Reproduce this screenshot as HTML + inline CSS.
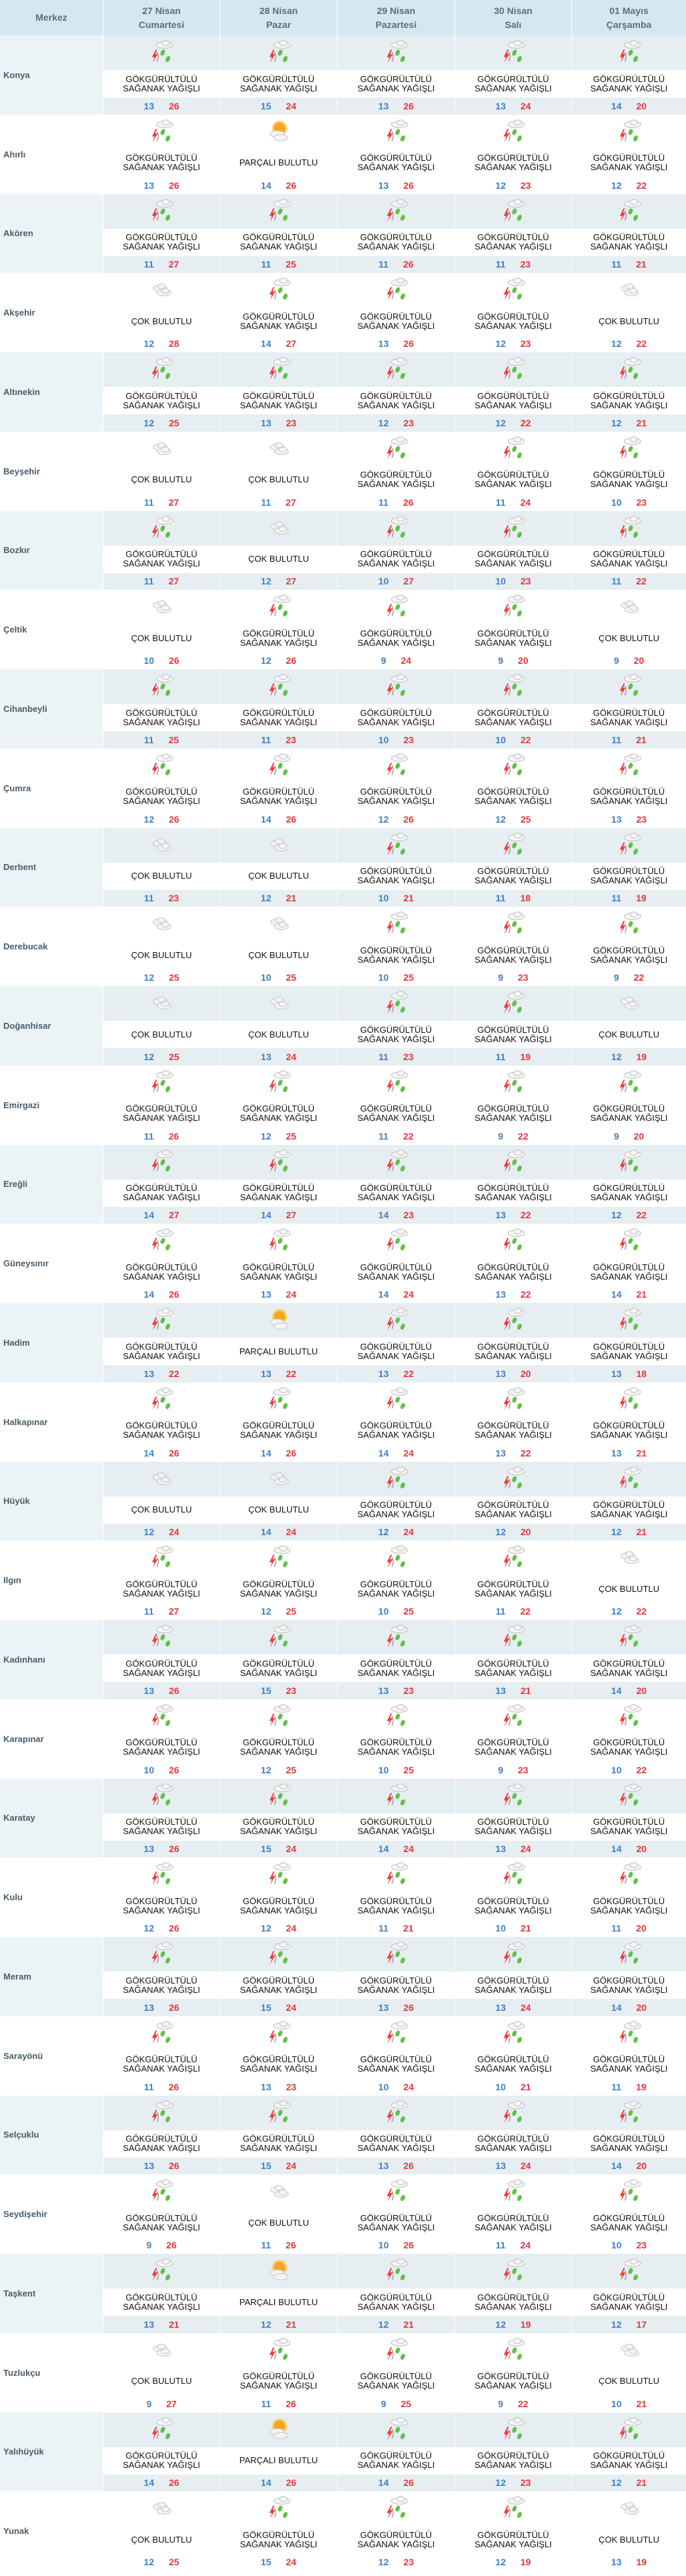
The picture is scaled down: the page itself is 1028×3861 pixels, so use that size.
<!DOCTYPE html>
<html><head><meta charset="utf-8"><style>
*{margin:0;padding:0;box-sizing:border-box}
body{width:1028px;height:3861px;background:#fff;font-family:"Liberation Sans",sans-serif;overflow:hidden}
.h,.r{display:grid;grid-template-columns:154px 175px 176px 176px 175px 172px}
.h{height:53px;background:#d5e8ef}
.h div{display:flex;align-items:center;justify-content:center;text-align:center;font-weight:bold;font-size:14px;line-height:21px;color:#56707f;border-left:1px solid #fff}
.h div:first-child{border-left:0}
.r{height:118.75px}
.n{display:flex;align-items:center;padding-left:5px;font-weight:bold;font-size:13px;color:#4a5c69}
.c{display:flex;flex-direction:column;border-left:1px solid #fff}
.i{height:52px;display:flex;justify-content:center;align-items:flex-start;padding-top:6px}
.i svg{width:38px;height:38px}
.t{height:41px;display:flex;align-items:center;justify-content:center;text-align:center;font-size:13px;line-height:14px;color:#111;background:#fff}
.p{flex:1;display:flex;align-items:center;justify-content:center;font-weight:bold;font-size:14px}
.p b{color:#3f7fc4;margin-right:11px}
.p i{color:#e0393e;font-style:normal;margin-left:11px}
.s .n{background:#ecf3f6}
.s .i,.s .p{background:#e6eef2}
.s .c{border-left:1px solid #fff}
</style></head><body>
<svg width="0" height="0" style="position:absolute">
<defs>
<symbol id="g" viewBox="0 0 40 40">
<ellipse cx="25" cy="9" rx="13" ry="5" fill="#f6f6f6" stroke="#bbb" stroke-width="1"/>
<ellipse cx="27" cy="6" rx="6" ry="4" fill="#f6f6f6" stroke="#bbb" stroke-width="1"/>
<path d="M11 16 L5 28 L9 28 L6 37 L14 23 L10 23 L13 16Z" fill="#ee3b3b"/>
<path d="M13 20 Q17 27 13 35" stroke="#888" stroke-width="1.2" fill="none"/>
<ellipse cx="22" cy="21" rx="3.2" ry="5" fill="#5ec244" transform="rotate(25 22 21)"/>
<ellipse cx="30" cy="31" rx="3.2" ry="5" fill="#5ec244" transform="rotate(25 30 31)"/>
</symbol>
<symbol id="c" viewBox="0 0 40 40">
<ellipse cx="18" cy="18" rx="11" ry="5" fill="#f4f4f4" stroke="#c4c4c4"/>
<ellipse cx="20" cy="15" rx="6" ry="4" fill="#f4f4f4" stroke="#c4c4c4"/>
<ellipse cx="24" cy="25" rx="11" ry="5" fill="#f4f4f4" stroke="#c4c4c4"/>
<ellipse cx="26" cy="22" rx="6" ry="4" fill="#f4f4f4" stroke="#c4c4c4"/>
</symbol>
<symbol id="s" viewBox="0 0 40 40">
<circle cx="21" cy="15" r="12" fill="#fbd27a"/>
<circle cx="21" cy="15" r="9" fill="#f5a623"/>
<ellipse cx="17" cy="24" rx="11" ry="5" fill="#f4f4f4" stroke="#c4c4c4"/>
<ellipse cx="23" cy="30" rx="11" ry="5" fill="#f4f4f4" stroke="#c4c4c4"/>
</symbol>
</defs></svg>
<div class="h"><div>Merkez</div><div>27 Nisan<br>Cumartesi</div><div>28 Nisan<br>Pazar</div><div>29 Nisan<br>Pazartesi</div><div>30 Nisan<br>Salı</div><div>01 Mayıs<br>Çarşamba</div></div>

<div class="r s"><div class="n">Konya</div>
<div class="c"><div class="i"><svg><use href="#g"/></svg></div><div class="t">GÖKGÜRÜLTÜLÜ<br>SAĞANAK YAĞIŞLI</div><div class="p"><b>13</b><i>26</i></div></div>
<div class="c"><div class="i"><svg><use href="#g"/></svg></div><div class="t">GÖKGÜRÜLTÜLÜ<br>SAĞANAK YAĞIŞLI</div><div class="p"><b>15</b><i>24</i></div></div>
<div class="c"><div class="i"><svg><use href="#g"/></svg></div><div class="t">GÖKGÜRÜLTÜLÜ<br>SAĞANAK YAĞIŞLI</div><div class="p"><b>13</b><i>26</i></div></div>
<div class="c"><div class="i"><svg><use href="#g"/></svg></div><div class="t">GÖKGÜRÜLTÜLÜ<br>SAĞANAK YAĞIŞLI</div><div class="p"><b>13</b><i>24</i></div></div>
<div class="c"><div class="i"><svg><use href="#g"/></svg></div><div class="t">GÖKGÜRÜLTÜLÜ<br>SAĞANAK YAĞIŞLI</div><div class="p"><b>14</b><i>20</i></div></div>
</div>

<div class="r"><div class="n">Ahırlı</div>
<div class="c"><div class="i"><svg><use href="#g"/></svg></div><div class="t">GÖKGÜRÜLTÜLÜ<br>SAĞANAK YAĞIŞLI</div><div class="p"><b>13</b><i>26</i></div></div>
<div class="c"><div class="i"><svg><use href="#s"/></svg></div><div class="t">PARÇALI BULUTLU</div><div class="p"><b>14</b><i>26</i></div></div>
<div class="c"><div class="i"><svg><use href="#g"/></svg></div><div class="t">GÖKGÜRÜLTÜLÜ<br>SAĞANAK YAĞIŞLI</div><div class="p"><b>13</b><i>26</i></div></div>
<div class="c"><div class="i"><svg><use href="#g"/></svg></div><div class="t">GÖKGÜRÜLTÜLÜ<br>SAĞANAK YAĞIŞLI</div><div class="p"><b>12</b><i>23</i></div></div>
<div class="c"><div class="i"><svg><use href="#g"/></svg></div><div class="t">GÖKGÜRÜLTÜLÜ<br>SAĞANAK YAĞIŞLI</div><div class="p"><b>12</b><i>22</i></div></div>
</div>

<div class="r s"><div class="n">Akören</div>
<div class="c"><div class="i"><svg><use href="#g"/></svg></div><div class="t">GÖKGÜRÜLTÜLÜ<br>SAĞANAK YAĞIŞLI</div><div class="p"><b>11</b><i>27</i></div></div>
<div class="c"><div class="i"><svg><use href="#g"/></svg></div><div class="t">GÖKGÜRÜLTÜLÜ<br>SAĞANAK YAĞIŞLI</div><div class="p"><b>11</b><i>25</i></div></div>
<div class="c"><div class="i"><svg><use href="#g"/></svg></div><div class="t">GÖKGÜRÜLTÜLÜ<br>SAĞANAK YAĞIŞLI</div><div class="p"><b>11</b><i>26</i></div></div>
<div class="c"><div class="i"><svg><use href="#g"/></svg></div><div class="t">GÖKGÜRÜLTÜLÜ<br>SAĞANAK YAĞIŞLI</div><div class="p"><b>11</b><i>23</i></div></div>
<div class="c"><div class="i"><svg><use href="#g"/></svg></div><div class="t">GÖKGÜRÜLTÜLÜ<br>SAĞANAK YAĞIŞLI</div><div class="p"><b>11</b><i>21</i></div></div>
</div>

<div class="r"><div class="n">Akşehir</div>
<div class="c"><div class="i"><svg><use href="#c"/></svg></div><div class="t">ÇOK BULUTLU</div><div class="p"><b>12</b><i>28</i></div></div>
<div class="c"><div class="i"><svg><use href="#g"/></svg></div><div class="t">GÖKGÜRÜLTÜLÜ<br>SAĞANAK YAĞIŞLI</div><div class="p"><b>14</b><i>27</i></div></div>
<div class="c"><div class="i"><svg><use href="#g"/></svg></div><div class="t">GÖKGÜRÜLTÜLÜ<br>SAĞANAK YAĞIŞLI</div><div class="p"><b>13</b><i>26</i></div></div>
<div class="c"><div class="i"><svg><use href="#g"/></svg></div><div class="t">GÖKGÜRÜLTÜLÜ<br>SAĞANAK YAĞIŞLI</div><div class="p"><b>12</b><i>23</i></div></div>
<div class="c"><div class="i"><svg><use href="#c"/></svg></div><div class="t">ÇOK BULUTLU</div><div class="p"><b>12</b><i>22</i></div></div>
</div>

<div class="r s"><div class="n">Altınekin</div>
<div class="c"><div class="i"><svg><use href="#g"/></svg></div><div class="t">GÖKGÜRÜLTÜLÜ<br>SAĞANAK YAĞIŞLI</div><div class="p"><b>12</b><i>25</i></div></div>
<div class="c"><div class="i"><svg><use href="#g"/></svg></div><div class="t">GÖKGÜRÜLTÜLÜ<br>SAĞANAK YAĞIŞLI</div><div class="p"><b>13</b><i>23</i></div></div>
<div class="c"><div class="i"><svg><use href="#g"/></svg></div><div class="t">GÖKGÜRÜLTÜLÜ<br>SAĞANAK YAĞIŞLI</div><div class="p"><b>12</b><i>23</i></div></div>
<div class="c"><div class="i"><svg><use href="#g"/></svg></div><div class="t">GÖKGÜRÜLTÜLÜ<br>SAĞANAK YAĞIŞLI</div><div class="p"><b>12</b><i>22</i></div></div>
<div class="c"><div class="i"><svg><use href="#g"/></svg></div><div class="t">GÖKGÜRÜLTÜLÜ<br>SAĞANAK YAĞIŞLI</div><div class="p"><b>12</b><i>21</i></div></div>
</div>

<div class="r"><div class="n">Beyşehir</div>
<div class="c"><div class="i"><svg><use href="#c"/></svg></div><div class="t">ÇOK BULUTLU</div><div class="p"><b>11</b><i>27</i></div></div>
<div class="c"><div class="i"><svg><use href="#c"/></svg></div><div class="t">ÇOK BULUTLU</div><div class="p"><b>11</b><i>27</i></div></div>
<div class="c"><div class="i"><svg><use href="#g"/></svg></div><div class="t">GÖKGÜRÜLTÜLÜ<br>SAĞANAK YAĞIŞLI</div><div class="p"><b>11</b><i>26</i></div></div>
<div class="c"><div class="i"><svg><use href="#g"/></svg></div><div class="t">GÖKGÜRÜLTÜLÜ<br>SAĞANAK YAĞIŞLI</div><div class="p"><b>11</b><i>24</i></div></div>
<div class="c"><div class="i"><svg><use href="#g"/></svg></div><div class="t">GÖKGÜRÜLTÜLÜ<br>SAĞANAK YAĞIŞLI</div><div class="p"><b>10</b><i>23</i></div></div>
</div>

<div class="r s"><div class="n">Bozkır</div>
<div class="c"><div class="i"><svg><use href="#g"/></svg></div><div class="t">GÖKGÜRÜLTÜLÜ<br>SAĞANAK YAĞIŞLI</div><div class="p"><b>11</b><i>27</i></div></div>
<div class="c"><div class="i"><svg><use href="#c"/></svg></div><div class="t">ÇOK BULUTLU</div><div class="p"><b>12</b><i>27</i></div></div>
<div class="c"><div class="i"><svg><use href="#g"/></svg></div><div class="t">GÖKGÜRÜLTÜLÜ<br>SAĞANAK YAĞIŞLI</div><div class="p"><b>10</b><i>27</i></div></div>
<div class="c"><div class="i"><svg><use href="#g"/></svg></div><div class="t">GÖKGÜRÜLTÜLÜ<br>SAĞANAK YAĞIŞLI</div><div class="p"><b>10</b><i>23</i></div></div>
<div class="c"><div class="i"><svg><use href="#g"/></svg></div><div class="t">GÖKGÜRÜLTÜLÜ<br>SAĞANAK YAĞIŞLI</div><div class="p"><b>11</b><i>22</i></div></div>
</div>

<div class="r"><div class="n">Çeltik</div>
<div class="c"><div class="i"><svg><use href="#c"/></svg></div><div class="t">ÇOK BULUTLU</div><div class="p"><b>10</b><i>26</i></div></div>
<div class="c"><div class="i"><svg><use href="#g"/></svg></div><div class="t">GÖKGÜRÜLTÜLÜ<br>SAĞANAK YAĞIŞLI</div><div class="p"><b>12</b><i>26</i></div></div>
<div class="c"><div class="i"><svg><use href="#g"/></svg></div><div class="t">GÖKGÜRÜLTÜLÜ<br>SAĞANAK YAĞIŞLI</div><div class="p"><b>9</b><i>24</i></div></div>
<div class="c"><div class="i"><svg><use href="#g"/></svg></div><div class="t">GÖKGÜRÜLTÜLÜ<br>SAĞANAK YAĞIŞLI</div><div class="p"><b>9</b><i>20</i></div></div>
<div class="c"><div class="i"><svg><use href="#c"/></svg></div><div class="t">ÇOK BULUTLU</div><div class="p"><b>9</b><i>20</i></div></div>
</div>

<div class="r s"><div class="n">Cihanbeyli</div>
<div class="c"><div class="i"><svg><use href="#g"/></svg></div><div class="t">GÖKGÜRÜLTÜLÜ<br>SAĞANAK YAĞIŞLI</div><div class="p"><b>11</b><i>25</i></div></div>
<div class="c"><div class="i"><svg><use href="#g"/></svg></div><div class="t">GÖKGÜRÜLTÜLÜ<br>SAĞANAK YAĞIŞLI</div><div class="p"><b>11</b><i>23</i></div></div>
<div class="c"><div class="i"><svg><use href="#g"/></svg></div><div class="t">GÖKGÜRÜLTÜLÜ<br>SAĞANAK YAĞIŞLI</div><div class="p"><b>10</b><i>23</i></div></div>
<div class="c"><div class="i"><svg><use href="#g"/></svg></div><div class="t">GÖKGÜRÜLTÜLÜ<br>SAĞANAK YAĞIŞLI</div><div class="p"><b>10</b><i>22</i></div></div>
<div class="c"><div class="i"><svg><use href="#g"/></svg></div><div class="t">GÖKGÜRÜLTÜLÜ<br>SAĞANAK YAĞIŞLI</div><div class="p"><b>11</b><i>21</i></div></div>
</div>

<div class="r"><div class="n">Çumra</div>
<div class="c"><div class="i"><svg><use href="#g"/></svg></div><div class="t">GÖKGÜRÜLTÜLÜ<br>SAĞANAK YAĞIŞLI</div><div class="p"><b>12</b><i>26</i></div></div>
<div class="c"><div class="i"><svg><use href="#g"/></svg></div><div class="t">GÖKGÜRÜLTÜLÜ<br>SAĞANAK YAĞIŞLI</div><div class="p"><b>14</b><i>26</i></div></div>
<div class="c"><div class="i"><svg><use href="#g"/></svg></div><div class="t">GÖKGÜRÜLTÜLÜ<br>SAĞANAK YAĞIŞLI</div><div class="p"><b>12</b><i>26</i></div></div>
<div class="c"><div class="i"><svg><use href="#g"/></svg></div><div class="t">GÖKGÜRÜLTÜLÜ<br>SAĞANAK YAĞIŞLI</div><div class="p"><b>12</b><i>25</i></div></div>
<div class="c"><div class="i"><svg><use href="#g"/></svg></div><div class="t">GÖKGÜRÜLTÜLÜ<br>SAĞANAK YAĞIŞLI</div><div class="p"><b>13</b><i>23</i></div></div>
</div>

<div class="r s"><div class="n">Derbent</div>
<div class="c"><div class="i"><svg><use href="#c"/></svg></div><div class="t">ÇOK BULUTLU</div><div class="p"><b>11</b><i>23</i></div></div>
<div class="c"><div class="i"><svg><use href="#c"/></svg></div><div class="t">ÇOK BULUTLU</div><div class="p"><b>12</b><i>21</i></div></div>
<div class="c"><div class="i"><svg><use href="#g"/></svg></div><div class="t">GÖKGÜRÜLTÜLÜ<br>SAĞANAK YAĞIŞLI</div><div class="p"><b>10</b><i>21</i></div></div>
<div class="c"><div class="i"><svg><use href="#g"/></svg></div><div class="t">GÖKGÜRÜLTÜLÜ<br>SAĞANAK YAĞIŞLI</div><div class="p"><b>11</b><i>18</i></div></div>
<div class="c"><div class="i"><svg><use href="#g"/></svg></div><div class="t">GÖKGÜRÜLTÜLÜ<br>SAĞANAK YAĞIŞLI</div><div class="p"><b>11</b><i>19</i></div></div>
</div>

<div class="r"><div class="n">Derebucak</div>
<div class="c"><div class="i"><svg><use href="#c"/></svg></div><div class="t">ÇOK BULUTLU</div><div class="p"><b>12</b><i>25</i></div></div>
<div class="c"><div class="i"><svg><use href="#c"/></svg></div><div class="t">ÇOK BULUTLU</div><div class="p"><b>10</b><i>25</i></div></div>
<div class="c"><div class="i"><svg><use href="#g"/></svg></div><div class="t">GÖKGÜRÜLTÜLÜ<br>SAĞANAK YAĞIŞLI</div><div class="p"><b>10</b><i>25</i></div></div>
<div class="c"><div class="i"><svg><use href="#g"/></svg></div><div class="t">GÖKGÜRÜLTÜLÜ<br>SAĞANAK YAĞIŞLI</div><div class="p"><b>9</b><i>23</i></div></div>
<div class="c"><div class="i"><svg><use href="#g"/></svg></div><div class="t">GÖKGÜRÜLTÜLÜ<br>SAĞANAK YAĞIŞLI</div><div class="p"><b>9</b><i>22</i></div></div>
</div>

<div class="r s"><div class="n">Doğanhisar</div>
<div class="c"><div class="i"><svg><use href="#c"/></svg></div><div class="t">ÇOK BULUTLU</div><div class="p"><b>12</b><i>25</i></div></div>
<div class="c"><div class="i"><svg><use href="#c"/></svg></div><div class="t">ÇOK BULUTLU</div><div class="p"><b>13</b><i>24</i></div></div>
<div class="c"><div class="i"><svg><use href="#g"/></svg></div><div class="t">GÖKGÜRÜLTÜLÜ<br>SAĞANAK YAĞIŞLI</div><div class="p"><b>11</b><i>23</i></div></div>
<div class="c"><div class="i"><svg><use href="#g"/></svg></div><div class="t">GÖKGÜRÜLTÜLÜ<br>SAĞANAK YAĞIŞLI</div><div class="p"><b>11</b><i>19</i></div></div>
<div class="c"><div class="i"><svg><use href="#c"/></svg></div><div class="t">ÇOK BULUTLU</div><div class="p"><b>12</b><i>19</i></div></div>
</div>

<div class="r"><div class="n">Emirgazi</div>
<div class="c"><div class="i"><svg><use href="#g"/></svg></div><div class="t">GÖKGÜRÜLTÜLÜ<br>SAĞANAK YAĞIŞLI</div><div class="p"><b>11</b><i>26</i></div></div>
<div class="c"><div class="i"><svg><use href="#g"/></svg></div><div class="t">GÖKGÜRÜLTÜLÜ<br>SAĞANAK YAĞIŞLI</div><div class="p"><b>12</b><i>25</i></div></div>
<div class="c"><div class="i"><svg><use href="#g"/></svg></div><div class="t">GÖKGÜRÜLTÜLÜ<br>SAĞANAK YAĞIŞLI</div><div class="p"><b>11</b><i>22</i></div></div>
<div class="c"><div class="i"><svg><use href="#g"/></svg></div><div class="t">GÖKGÜRÜLTÜLÜ<br>SAĞANAK YAĞIŞLI</div><div class="p"><b>9</b><i>22</i></div></div>
<div class="c"><div class="i"><svg><use href="#g"/></svg></div><div class="t">GÖKGÜRÜLTÜLÜ<br>SAĞANAK YAĞIŞLI</div><div class="p"><b>9</b><i>20</i></div></div>
</div>

<div class="r s"><div class="n">Ereğli</div>
<div class="c"><div class="i"><svg><use href="#g"/></svg></div><div class="t">GÖKGÜRÜLTÜLÜ<br>SAĞANAK YAĞIŞLI</div><div class="p"><b>14</b><i>27</i></div></div>
<div class="c"><div class="i"><svg><use href="#g"/></svg></div><div class="t">GÖKGÜRÜLTÜLÜ<br>SAĞANAK YAĞIŞLI</div><div class="p"><b>14</b><i>27</i></div></div>
<div class="c"><div class="i"><svg><use href="#g"/></svg></div><div class="t">GÖKGÜRÜLTÜLÜ<br>SAĞANAK YAĞIŞLI</div><div class="p"><b>14</b><i>23</i></div></div>
<div class="c"><div class="i"><svg><use href="#g"/></svg></div><div class="t">GÖKGÜRÜLTÜLÜ<br>SAĞANAK YAĞIŞLI</div><div class="p"><b>13</b><i>22</i></div></div>
<div class="c"><div class="i"><svg><use href="#g"/></svg></div><div class="t">GÖKGÜRÜLTÜLÜ<br>SAĞANAK YAĞIŞLI</div><div class="p"><b>12</b><i>22</i></div></div>
</div>

<div class="r"><div class="n">Güneysınır</div>
<div class="c"><div class="i"><svg><use href="#g"/></svg></div><div class="t">GÖKGÜRÜLTÜLÜ<br>SAĞANAK YAĞIŞLI</div><div class="p"><b>14</b><i>26</i></div></div>
<div class="c"><div class="i"><svg><use href="#g"/></svg></div><div class="t">GÖKGÜRÜLTÜLÜ<br>SAĞANAK YAĞIŞLI</div><div class="p"><b>13</b><i>24</i></div></div>
<div class="c"><div class="i"><svg><use href="#g"/></svg></div><div class="t">GÖKGÜRÜLTÜLÜ<br>SAĞANAK YAĞIŞLI</div><div class="p"><b>14</b><i>24</i></div></div>
<div class="c"><div class="i"><svg><use href="#g"/></svg></div><div class="t">GÖKGÜRÜLTÜLÜ<br>SAĞANAK YAĞIŞLI</div><div class="p"><b>13</b><i>22</i></div></div>
<div class="c"><div class="i"><svg><use href="#g"/></svg></div><div class="t">GÖKGÜRÜLTÜLÜ<br>SAĞANAK YAĞIŞLI</div><div class="p"><b>14</b><i>21</i></div></div>
</div>

<div class="r s"><div class="n">Hadim</div>
<div class="c"><div class="i"><svg><use href="#g"/></svg></div><div class="t">GÖKGÜRÜLTÜLÜ<br>SAĞANAK YAĞIŞLI</div><div class="p"><b>13</b><i>22</i></div></div>
<div class="c"><div class="i"><svg><use href="#s"/></svg></div><div class="t">PARÇALI BULUTLU</div><div class="p"><b>13</b><i>22</i></div></div>
<div class="c"><div class="i"><svg><use href="#g"/></svg></div><div class="t">GÖKGÜRÜLTÜLÜ<br>SAĞANAK YAĞIŞLI</div><div class="p"><b>13</b><i>22</i></div></div>
<div class="c"><div class="i"><svg><use href="#g"/></svg></div><div class="t">GÖKGÜRÜLTÜLÜ<br>SAĞANAK YAĞIŞLI</div><div class="p"><b>13</b><i>20</i></div></div>
<div class="c"><div class="i"><svg><use href="#g"/></svg></div><div class="t">GÖKGÜRÜLTÜLÜ<br>SAĞANAK YAĞIŞLI</div><div class="p"><b>13</b><i>18</i></div></div>
</div>

<div class="r"><div class="n">Halkapınar</div>
<div class="c"><div class="i"><svg><use href="#g"/></svg></div><div class="t">GÖKGÜRÜLTÜLÜ<br>SAĞANAK YAĞIŞLI</div><div class="p"><b>14</b><i>26</i></div></div>
<div class="c"><div class="i"><svg><use href="#g"/></svg></div><div class="t">GÖKGÜRÜLTÜLÜ<br>SAĞANAK YAĞIŞLI</div><div class="p"><b>14</b><i>26</i></div></div>
<div class="c"><div class="i"><svg><use href="#g"/></svg></div><div class="t">GÖKGÜRÜLTÜLÜ<br>SAĞANAK YAĞIŞLI</div><div class="p"><b>14</b><i>24</i></div></div>
<div class="c"><div class="i"><svg><use href="#g"/></svg></div><div class="t">GÖKGÜRÜLTÜLÜ<br>SAĞANAK YAĞIŞLI</div><div class="p"><b>13</b><i>22</i></div></div>
<div class="c"><div class="i"><svg><use href="#g"/></svg></div><div class="t">GÖKGÜRÜLTÜLÜ<br>SAĞANAK YAĞIŞLI</div><div class="p"><b>13</b><i>21</i></div></div>
</div>

<div class="r s"><div class="n">Hüyük</div>
<div class="c"><div class="i"><svg><use href="#c"/></svg></div><div class="t">ÇOK BULUTLU</div><div class="p"><b>12</b><i>24</i></div></div>
<div class="c"><div class="i"><svg><use href="#c"/></svg></div><div class="t">ÇOK BULUTLU</div><div class="p"><b>14</b><i>24</i></div></div>
<div class="c"><div class="i"><svg><use href="#g"/></svg></div><div class="t">GÖKGÜRÜLTÜLÜ<br>SAĞANAK YAĞIŞLI</div><div class="p"><b>12</b><i>24</i></div></div>
<div class="c"><div class="i"><svg><use href="#g"/></svg></div><div class="t">GÖKGÜRÜLTÜLÜ<br>SAĞANAK YAĞIŞLI</div><div class="p"><b>12</b><i>20</i></div></div>
<div class="c"><div class="i"><svg><use href="#g"/></svg></div><div class="t">GÖKGÜRÜLTÜLÜ<br>SAĞANAK YAĞIŞLI</div><div class="p"><b>12</b><i>21</i></div></div>
</div>

<div class="r"><div class="n">Ilgın</div>
<div class="c"><div class="i"><svg><use href="#g"/></svg></div><div class="t">GÖKGÜRÜLTÜLÜ<br>SAĞANAK YAĞIŞLI</div><div class="p"><b>11</b><i>27</i></div></div>
<div class="c"><div class="i"><svg><use href="#g"/></svg></div><div class="t">GÖKGÜRÜLTÜLÜ<br>SAĞANAK YAĞIŞLI</div><div class="p"><b>12</b><i>25</i></div></div>
<div class="c"><div class="i"><svg><use href="#g"/></svg></div><div class="t">GÖKGÜRÜLTÜLÜ<br>SAĞANAK YAĞIŞLI</div><div class="p"><b>10</b><i>25</i></div></div>
<div class="c"><div class="i"><svg><use href="#g"/></svg></div><div class="t">GÖKGÜRÜLTÜLÜ<br>SAĞANAK YAĞIŞLI</div><div class="p"><b>11</b><i>22</i></div></div>
<div class="c"><div class="i"><svg><use href="#c"/></svg></div><div class="t">ÇOK BULUTLU</div><div class="p"><b>12</b><i>22</i></div></div>
</div>

<div class="r s"><div class="n">Kadınhanı</div>
<div class="c"><div class="i"><svg><use href="#g"/></svg></div><div class="t">GÖKGÜRÜLTÜLÜ<br>SAĞANAK YAĞIŞLI</div><div class="p"><b>13</b><i>26</i></div></div>
<div class="c"><div class="i"><svg><use href="#g"/></svg></div><div class="t">GÖKGÜRÜLTÜLÜ<br>SAĞANAK YAĞIŞLI</div><div class="p"><b>15</b><i>23</i></div></div>
<div class="c"><div class="i"><svg><use href="#g"/></svg></div><div class="t">GÖKGÜRÜLTÜLÜ<br>SAĞANAK YAĞIŞLI</div><div class="p"><b>13</b><i>23</i></div></div>
<div class="c"><div class="i"><svg><use href="#g"/></svg></div><div class="t">GÖKGÜRÜLTÜLÜ<br>SAĞANAK YAĞIŞLI</div><div class="p"><b>13</b><i>21</i></div></div>
<div class="c"><div class="i"><svg><use href="#g"/></svg></div><div class="t">GÖKGÜRÜLTÜLÜ<br>SAĞANAK YAĞIŞLI</div><div class="p"><b>14</b><i>20</i></div></div>
</div>

<div class="r"><div class="n">Karapınar</div>
<div class="c"><div class="i"><svg><use href="#g"/></svg></div><div class="t">GÖKGÜRÜLTÜLÜ<br>SAĞANAK YAĞIŞLI</div><div class="p"><b>10</b><i>26</i></div></div>
<div class="c"><div class="i"><svg><use href="#g"/></svg></div><div class="t">GÖKGÜRÜLTÜLÜ<br>SAĞANAK YAĞIŞLI</div><div class="p"><b>12</b><i>25</i></div></div>
<div class="c"><div class="i"><svg><use href="#g"/></svg></div><div class="t">GÖKGÜRÜLTÜLÜ<br>SAĞANAK YAĞIŞLI</div><div class="p"><b>10</b><i>25</i></div></div>
<div class="c"><div class="i"><svg><use href="#g"/></svg></div><div class="t">GÖKGÜRÜLTÜLÜ<br>SAĞANAK YAĞIŞLI</div><div class="p"><b>9</b><i>23</i></div></div>
<div class="c"><div class="i"><svg><use href="#g"/></svg></div><div class="t">GÖKGÜRÜLTÜLÜ<br>SAĞANAK YAĞIŞLI</div><div class="p"><b>10</b><i>22</i></div></div>
</div>

<div class="r s"><div class="n">Karatay</div>
<div class="c"><div class="i"><svg><use href="#g"/></svg></div><div class="t">GÖKGÜRÜLTÜLÜ<br>SAĞANAK YAĞIŞLI</div><div class="p"><b>13</b><i>26</i></div></div>
<div class="c"><div class="i"><svg><use href="#g"/></svg></div><div class="t">GÖKGÜRÜLTÜLÜ<br>SAĞANAK YAĞIŞLI</div><div class="p"><b>15</b><i>24</i></div></div>
<div class="c"><div class="i"><svg><use href="#g"/></svg></div><div class="t">GÖKGÜRÜLTÜLÜ<br>SAĞANAK YAĞIŞLI</div><div class="p"><b>14</b><i>24</i></div></div>
<div class="c"><div class="i"><svg><use href="#g"/></svg></div><div class="t">GÖKGÜRÜLTÜLÜ<br>SAĞANAK YAĞIŞLI</div><div class="p"><b>13</b><i>24</i></div></div>
<div class="c"><div class="i"><svg><use href="#g"/></svg></div><div class="t">GÖKGÜRÜLTÜLÜ<br>SAĞANAK YAĞIŞLI</div><div class="p"><b>14</b><i>20</i></div></div>
</div>

<div class="r"><div class="n">Kulu</div>
<div class="c"><div class="i"><svg><use href="#g"/></svg></div><div class="t">GÖKGÜRÜLTÜLÜ<br>SAĞANAK YAĞIŞLI</div><div class="p"><b>12</b><i>26</i></div></div>
<div class="c"><div class="i"><svg><use href="#g"/></svg></div><div class="t">GÖKGÜRÜLTÜLÜ<br>SAĞANAK YAĞIŞLI</div><div class="p"><b>12</b><i>24</i></div></div>
<div class="c"><div class="i"><svg><use href="#g"/></svg></div><div class="t">GÖKGÜRÜLTÜLÜ<br>SAĞANAK YAĞIŞLI</div><div class="p"><b>11</b><i>21</i></div></div>
<div class="c"><div class="i"><svg><use href="#g"/></svg></div><div class="t">GÖKGÜRÜLTÜLÜ<br>SAĞANAK YAĞIŞLI</div><div class="p"><b>10</b><i>21</i></div></div>
<div class="c"><div class="i"><svg><use href="#g"/></svg></div><div class="t">GÖKGÜRÜLTÜLÜ<br>SAĞANAK YAĞIŞLI</div><div class="p"><b>11</b><i>20</i></div></div>
</div>

<div class="r s"><div class="n">Meram</div>
<div class="c"><div class="i"><svg><use href="#g"/></svg></div><div class="t">GÖKGÜRÜLTÜLÜ<br>SAĞANAK YAĞIŞLI</div><div class="p"><b>13</b><i>26</i></div></div>
<div class="c"><div class="i"><svg><use href="#g"/></svg></div><div class="t">GÖKGÜRÜLTÜLÜ<br>SAĞANAK YAĞIŞLI</div><div class="p"><b>15</b><i>24</i></div></div>
<div class="c"><div class="i"><svg><use href="#g"/></svg></div><div class="t">GÖKGÜRÜLTÜLÜ<br>SAĞANAK YAĞIŞLI</div><div class="p"><b>13</b><i>26</i></div></div>
<div class="c"><div class="i"><svg><use href="#g"/></svg></div><div class="t">GÖKGÜRÜLTÜLÜ<br>SAĞANAK YAĞIŞLI</div><div class="p"><b>13</b><i>24</i></div></div>
<div class="c"><div class="i"><svg><use href="#g"/></svg></div><div class="t">GÖKGÜRÜLTÜLÜ<br>SAĞANAK YAĞIŞLI</div><div class="p"><b>14</b><i>20</i></div></div>
</div>

<div class="r"><div class="n">Sarayönü</div>
<div class="c"><div class="i"><svg><use href="#g"/></svg></div><div class="t">GÖKGÜRÜLTÜLÜ<br>SAĞANAK YAĞIŞLI</div><div class="p"><b>11</b><i>26</i></div></div>
<div class="c"><div class="i"><svg><use href="#g"/></svg></div><div class="t">GÖKGÜRÜLTÜLÜ<br>SAĞANAK YAĞIŞLI</div><div class="p"><b>13</b><i>23</i></div></div>
<div class="c"><div class="i"><svg><use href="#g"/></svg></div><div class="t">GÖKGÜRÜLTÜLÜ<br>SAĞANAK YAĞIŞLI</div><div class="p"><b>10</b><i>24</i></div></div>
<div class="c"><div class="i"><svg><use href="#g"/></svg></div><div class="t">GÖKGÜRÜLTÜLÜ<br>SAĞANAK YAĞIŞLI</div><div class="p"><b>10</b><i>21</i></div></div>
<div class="c"><div class="i"><svg><use href="#g"/></svg></div><div class="t">GÖKGÜRÜLTÜLÜ<br>SAĞANAK YAĞIŞLI</div><div class="p"><b>11</b><i>19</i></div></div>
</div>

<div class="r s"><div class="n">Selçuklu</div>
<div class="c"><div class="i"><svg><use href="#g"/></svg></div><div class="t">GÖKGÜRÜLTÜLÜ<br>SAĞANAK YAĞIŞLI</div><div class="p"><b>13</b><i>26</i></div></div>
<div class="c"><div class="i"><svg><use href="#g"/></svg></div><div class="t">GÖKGÜRÜLTÜLÜ<br>SAĞANAK YAĞIŞLI</div><div class="p"><b>15</b><i>24</i></div></div>
<div class="c"><div class="i"><svg><use href="#g"/></svg></div><div class="t">GÖKGÜRÜLTÜLÜ<br>SAĞANAK YAĞIŞLI</div><div class="p"><b>13</b><i>26</i></div></div>
<div class="c"><div class="i"><svg><use href="#g"/></svg></div><div class="t">GÖKGÜRÜLTÜLÜ<br>SAĞANAK YAĞIŞLI</div><div class="p"><b>13</b><i>24</i></div></div>
<div class="c"><div class="i"><svg><use href="#g"/></svg></div><div class="t">GÖKGÜRÜLTÜLÜ<br>SAĞANAK YAĞIŞLI</div><div class="p"><b>14</b><i>20</i></div></div>
</div>

<div class="r"><div class="n">Seydişehir</div>
<div class="c"><div class="i"><svg><use href="#g"/></svg></div><div class="t">GÖKGÜRÜLTÜLÜ<br>SAĞANAK YAĞIŞLI</div><div class="p"><b>9</b><i>26</i></div></div>
<div class="c"><div class="i"><svg><use href="#c"/></svg></div><div class="t">ÇOK BULUTLU</div><div class="p"><b>11</b><i>26</i></div></div>
<div class="c"><div class="i"><svg><use href="#g"/></svg></div><div class="t">GÖKGÜRÜLTÜLÜ<br>SAĞANAK YAĞIŞLI</div><div class="p"><b>10</b><i>26</i></div></div>
<div class="c"><div class="i"><svg><use href="#g"/></svg></div><div class="t">GÖKGÜRÜLTÜLÜ<br>SAĞANAK YAĞIŞLI</div><div class="p"><b>11</b><i>24</i></div></div>
<div class="c"><div class="i"><svg><use href="#g"/></svg></div><div class="t">GÖKGÜRÜLTÜLÜ<br>SAĞANAK YAĞIŞLI</div><div class="p"><b>10</b><i>23</i></div></div>
</div>

<div class="r s"><div class="n">Taşkent</div>
<div class="c"><div class="i"><svg><use href="#g"/></svg></div><div class="t">GÖKGÜRÜLTÜLÜ<br>SAĞANAK YAĞIŞLI</div><div class="p"><b>13</b><i>21</i></div></div>
<div class="c"><div class="i"><svg><use href="#s"/></svg></div><div class="t">PARÇALI BULUTLU</div><div class="p"><b>12</b><i>21</i></div></div>
<div class="c"><div class="i"><svg><use href="#g"/></svg></div><div class="t">GÖKGÜRÜLTÜLÜ<br>SAĞANAK YAĞIŞLI</div><div class="p"><b>12</b><i>21</i></div></div>
<div class="c"><div class="i"><svg><use href="#g"/></svg></div><div class="t">GÖKGÜRÜLTÜLÜ<br>SAĞANAK YAĞIŞLI</div><div class="p"><b>12</b><i>19</i></div></div>
<div class="c"><div class="i"><svg><use href="#g"/></svg></div><div class="t">GÖKGÜRÜLTÜLÜ<br>SAĞANAK YAĞIŞLI</div><div class="p"><b>12</b><i>17</i></div></div>
</div>

<div class="r"><div class="n">Tuzlukçu</div>
<div class="c"><div class="i"><svg><use href="#c"/></svg></div><div class="t">ÇOK BULUTLU</div><div class="p"><b>9</b><i>27</i></div></div>
<div class="c"><div class="i"><svg><use href="#g"/></svg></div><div class="t">GÖKGÜRÜLTÜLÜ<br>SAĞANAK YAĞIŞLI</div><div class="p"><b>11</b><i>26</i></div></div>
<div class="c"><div class="i"><svg><use href="#g"/></svg></div><div class="t">GÖKGÜRÜLTÜLÜ<br>SAĞANAK YAĞIŞLI</div><div class="p"><b>9</b><i>25</i></div></div>
<div class="c"><div class="i"><svg><use href="#g"/></svg></div><div class="t">GÖKGÜRÜLTÜLÜ<br>SAĞANAK YAĞIŞLI</div><div class="p"><b>9</b><i>22</i></div></div>
<div class="c"><div class="i"><svg><use href="#c"/></svg></div><div class="t">ÇOK BULUTLU</div><div class="p"><b>10</b><i>21</i></div></div>
</div>

<div class="r s"><div class="n">Yalıhüyük</div>
<div class="c"><div class="i"><svg><use href="#g"/></svg></div><div class="t">GÖKGÜRÜLTÜLÜ<br>SAĞANAK YAĞIŞLI</div><div class="p"><b>14</b><i>26</i></div></div>
<div class="c"><div class="i"><svg><use href="#s"/></svg></div><div class="t">PARÇALI BULUTLU</div><div class="p"><b>14</b><i>26</i></div></div>
<div class="c"><div class="i"><svg><use href="#g"/></svg></div><div class="t">GÖKGÜRÜLTÜLÜ<br>SAĞANAK YAĞIŞLI</div><div class="p"><b>14</b><i>26</i></div></div>
<div class="c"><div class="i"><svg><use href="#g"/></svg></div><div class="t">GÖKGÜRÜLTÜLÜ<br>SAĞANAK YAĞIŞLI</div><div class="p"><b>12</b><i>23</i></div></div>
<div class="c"><div class="i"><svg><use href="#g"/></svg></div><div class="t">GÖKGÜRÜLTÜLÜ<br>SAĞANAK YAĞIŞLI</div><div class="p"><b>12</b><i>21</i></div></div>
</div>

<div class="r"><div class="n">Yunak</div>
<div class="c"><div class="i"><svg><use href="#c"/></svg></div><div class="t">ÇOK BULUTLU</div><div class="p"><b>12</b><i>25</i></div></div>
<div class="c"><div class="i"><svg><use href="#g"/></svg></div><div class="t">GÖKGÜRÜLTÜLÜ<br>SAĞANAK YAĞIŞLI</div><div class="p"><b>15</b><i>24</i></div></div>
<div class="c"><div class="i"><svg><use href="#g"/></svg></div><div class="t">GÖKGÜRÜLTÜLÜ<br>SAĞANAK YAĞIŞLI</div><div class="p"><b>12</b><i>23</i></div></div>
<div class="c"><div class="i"><svg><use href="#g"/></svg></div><div class="t">GÖKGÜRÜLTÜLÜ<br>SAĞANAK YAĞIŞLI</div><div class="p"><b>12</b><i>19</i></div></div>
<div class="c"><div class="i"><svg><use href="#c"/></svg></div><div class="t">ÇOK BULUTLU</div><div class="p"><b>13</b><i>19</i></div></div>
</div>
</body></html>
